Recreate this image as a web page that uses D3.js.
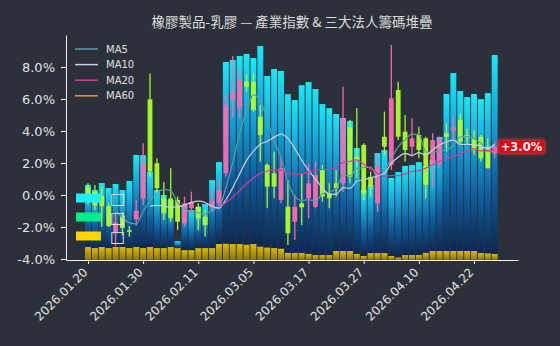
<!DOCTYPE html>
<html><head><meta charset="utf-8">
<script src="https://cdn.jsdelivr.net/npm/d3@7"></script>
<style>html,body{margin:0;padding:0;background:#2b303a;} svg{display:block;}</style>
</head><body><svg id="c" width="560" height="346"></svg>
<script>
const dates = ["2026.01.20","2026.01.21","2026.01.22","2026.01.23","2026.01.26","2026.01.27","2026.01.28","2026.01.29","2026.01.30",
"2026.02.02","2026.02.03","2026.02.04","2026.02.05","2026.02.06","2026.02.09","2026.02.10","2026.02.11",
"2026.02.23","2026.02.24","2026.02.25","2026.02.26","2026.03.02","2026.03.03","2026.03.04","2026.03.05",
"2026.03.06","2026.03.09","2026.03.10","2026.03.11","2026.03.12","2026.03.13","2026.03.16","2026.03.17",
"2026.03.18","2026.03.19","2026.03.20","2026.03.23","2026.03.24","2026.03.25","2026.03.26","2026.03.27",
"2026.03.30","2026.03.31","2026.04.01","2026.04.02","2026.04.07","2026.04.08","2026.04.09","2026.04.10",
"2026.04.13","2026.04.14","2026.04.15","2026.04.16","2026.04.17","2026.04.20","2026.04.21","2026.04.22",
"2026.04.23","2026.04.24","2026.04.27"];
const tickIdx = [0,8,16,24,32,40,48,56];
const yTicks = [-4,-2,0,2,4,6,8];

const open  = [0.47,0.21,-0.06,-0.69,-2.4,-1.31,-2.2,-1.52,-0.21,5.98,1.98,-0.21,-0.21,-0.31,-1.77,-0.83,-0.73,-1.36,-0.77,-0.52,
 1.36,5.98,5.42,7.08,7.08,4.89,1.88,1.36,-0.31,-0.73,-1.67,-0.52,-0.21,-0.73,1.56,0.1,0.73,0.73,4.23,2.39,
 3.13,1.14,-0.52,3.64,1.88,6.56,3.96,3.02,3.75,3.54,1.88,1.98,3.85,4.02,4.69,3.75,3.54,3.64,3.02,2.6];
const high  = [0.73,0.63,0.52,-0.5,-1.1,-1.06,-1.95,-0.3,3.23,7.6,2.29,0.83,1.67,-0.1,-0.1,0.21,-0.52,-0.94,0.31,0.94,
 6.25,8.69,7.92,7.5,7.6,5.63,1.98,2.71,2.39,0.94,0.0,1.36,1.98,2.08,1.88,0.73,1.56,6.77,4.69,5.42,
 3.23,1.46,2.6,5.21,9.38,7.08,5.0,4.79,4.27,3.64,3.86,3.64,4.48,5.0,5.1,4.17,4.06,3.75,3.54,3.33];
const low   = [-0.6,-0.94,-1.98,-2.0,-3.2,-2.5,-2.6,-1.9,-0.63,1.14,0.1,-1.56,-1.67,-2.19,-1.98,-1.14,-2.19,-2.6,-1.04,-0.73,
 1.14,4.89,4.79,6.46,5.21,2.08,-0.83,-0.21,-0.52,-3.13,-2.81,-1.88,-1.46,-0.83,-0.42,-0.83,-0.1,0.21,0.73,1.04,
 -0.31,-0.1,-1.04,2.5,1.56,3.44,2.08,2.39,2.29,-0.21,0.52,1.77,2.71,3.44,3.23,3.13,2.5,2.08,1.67,2.29];
const close = [-0.06,-0.63,-0.69,-1.94,-1.73,-2.06,-2.3,-0.98,1.98,1.46,0.42,-1.14,-1.44,-1.67,-0.52,-0.46,-1.46,-1.88,-0.36,0.31,
 5.63,6.39,7.19,6.77,5.31,3.75,0.52,0.52,1.67,-2.39,-0.73,-0.77,0.73,1.25,-0.1,-0.21,0.42,4.79,1.14,2.14,
 0.1,0.52,1.81,3.02,6.04,3.64,2.81,3.54,2.81,0.63,3.44,3.54,3.64,4.23,3.33,3.6,2.81,2.29,1.67,3.02];

// chip stacks (relative units)
const foreign = [27.6,25.8,28.4,26.7,28.0,25.3,29.8,40.9,41.3,33.3,25.8,23.6,20.9,3.1,20.0,17.8,18.2,19.6,30.2,36.4,
 80.7,81.8,83.6,84.7,82.7,89.1,76.2,79.6,78.9,70.5,67.9,74.5,76.4,73.8,67.1,65.3,60.9,59.1,57.8,47.1,
 29.3,30.2,44.4,45.8,34.7,37.9,39.6,40.0,41.3,38.5,40.4,50.7,69.8,79.1,71.1,68.4,69.8,68.3,71.2,88.4];
const trust = [0,0,0,0,0,0,0,0,0,0,0,0,0,0,0,0,0,0,0,0,0,0,0,0,0,0,0,0,0,0,0,0,0,0,0,0,0,0,0,0,0,0,0,0,0,0,0,0,0,0,0,0,0,0,0,0,0,0,0,0];
const dealer = [5.8,5.3,5.8,5.3,5.8,5.8,5.3,5.8,5.3,5.8,5.3,5.3,5.8,5.3,4.4,4.4,5.3,5.3,5.3,7.1,
 7.3,7.1,7.1,6.9,7.1,6.0,5.6,5.3,5.1,3.2,3.2,3.2,2.7,2.2,2.2,2.2,4.0,4.0,4.0,2.7,
 1.8,3.1,3.1,3.1,1.8,1.2,2.2,2.2,2.2,3.2,4.0,4.0,4.0,4.0,4.0,4.0,4.0,3.2,3.0,2.7];

const maNames = ["MA5","MA10","MA20","MA60"];
const maWin = [5,10,20,60];
const maColors = ["#5d9ea3","#c9d2dc","#d63a9c","#e0a020"];
const chipNames = ["□","□","□"];
const chipColors = ["#1ef0ff","#00ee8a","#ffd400"];
const title = "橡膠製品-乳膠 — 產業指數 & 三大法人籌碼堆疊";

const svg = d3.select("#c");
const L=66,R=518,T=35,B=260;
const x = d3.scaleLinear().domain([-3.19,62.38]).range([L,R]);
const y = d3.scaleLinear().domain([-4.0625,10]).range([B,T]);
const yb = d3.scaleLinear().domain([0,100]).range([B,T]);
const step = x(1)-x(0);

const defs = svg.append("defs");
const gB = defs.append("linearGradient").attr("id","gb").attr("x1",0).attr("y1",0).attr("x2",0).attr("y2",1);
[[0,"#1ae8f4"],[0.3,"#14a9dc"],[0.65,"#0e5c9e"],[1,"#0b2852"]].forEach(s=>gB.append("stop").attr("offset",s[0]).attr("stop-color",s[1]));
const gY = defs.append("linearGradient").attr("id","gy").attr("x1",0).attr("y1",0).attr("x2",0).attr("y2",1);
[[0,"#dcbc00"],[1,"#8a7400"]].forEach(s=>gY.append("stop").attr("offset",s[0]).attr("stop-color",s[1]));
const gG = defs.append("linearGradient").attr("id","gg").attr("x1",0).attr("y1",0).attr("x2",0).attr("y2",1);
[[0,"#00ee8a"],[1,"#006a40"]].forEach(s=>gG.append("stop").attr("offset",s[0]).attr("stop-color",s[1]));
const glow = defs.append("filter").attr("id","glow").attr("x","-30%").attr("y","-60%").attr("width","160%").attr("height","220%");
glow.append("feGaussianBlur").attr("stdDeviation",1.5);

// stacked bars
const stackData = dates.map((d,i)=>({i, dealer:dealer[i], trust:trust[i], foreign:foreign[i]}));
const series = d3.stack().keys(["dealer","trust","foreign"])(stackData);
const fills = {dealer:"url(#gy)", trust:"url(#gg)", foreign:"url(#gb)"};
const bw = step*0.86;
series.forEach(s=>{
  svg.append("g").selectAll("rect").data(s.filter(d=>d[1]-d[0]>0)).join("rect")
    .attr("x",d=>x(d.data.i)-bw/2).attr("width",bw)
    .attr("y",d=>yb(d[1])).attr("height",d=>yb(d[0])-yb(d[1]))
    .attr("fill",fills[s.key]);
});

// candles
const cg = svg.append("g").attr("opacity",0.95);
dates.forEach((d,i)=>{
  const up = close[i]>=open[i];
  const col = up ? "#ff69b4" : "#adff2f";
  cg.append("line").attr("x1",x(i)).attr("x2",x(i)).attr("y1",y(high[i])).attr("y2",y(low[i]))
    .attr("stroke",col).attr("stroke-width",1.3);
  const top = y(Math.max(open[i],close[i])), bot = y(Math.min(open[i],close[i]));
  cg.append("rect").attr("x",x(i)-2.4).attr("width",4.8).attr("y",top).attr("height",Math.max(1,bot-top)).attr("fill",col);
});

// moving averages
maWin.forEach((w,k)=>{
  const ma = close.map((c,i)=> i>=w-1 ? d3.mean(close.slice(i-w+1,i+1)) : null);
  const line = d3.line().defined(d=>d!=null).x((d,i)=>x(i)).y(d=>y(d)).curve(d3.curveMonotoneX);
  svg.append("path").datum(ma).attr("d",line).attr("fill","none").attr("stroke",maColors[k]).attr("stroke-width",1.2);
});

// axes
const ya = svg.append("g").attr("transform",`translate(${L},0)`)
  .call(d3.axisLeft(y).tickValues(yTicks).tickFormat(d=>d.toFixed(1)+"%").tickSize(5).tickSizeOuter(0).tickPadding(6));
const xa = svg.append("g").attr("transform",`translate(0,${B})`)
  .call(d3.axisBottom(x).tickValues(tickIdx).tickFormat(i=>dates[i]).tickSize(4).tickSizeOuter(0));
[ya,xa].forEach(a=>{
  a.selectAll("path,line").attr("stroke","#f0f0f0").attr("stroke-width",1);
  a.selectAll("text").attr("fill","#e2e2e2").attr("font-family","DejaVu Sans").attr("font-size",13);
});
xa.selectAll("text").attr("font-size",12).attr("text-anchor","end").attr("x",0).attr("y",0).attr("dy","0.35em")
  .attr("transform","translate(-3,10) rotate(-45)");

// title
svg.append("text").attr("x",(L+R)/2).attr("y",27).attr("text-anchor","middle")
  .attr("font-family","Noto Sans CJK TC").attr("font-size",13.5).attr("fill","#dcdcdc").text(title);

// MA legend
const lg = svg.append("g");
maNames.forEach((n,k)=>{
  const yy = 49 + k*15.6;
  lg.append("line").attr("x1",75).attr("x2",98).attr("y1",yy).attr("y2",yy).attr("stroke",maColors[k]).attr("stroke-width",1.5);
  lg.append("text").attr("x",106).attr("y",yy).attr("dy","0.35em").attr("font-family","DejaVu Sans").attr("font-size",10)
    .attr("fill","#e0e0e0").text(n);
});
// chip legend
chipNames.forEach((n,k)=>{
  const yy = 198 + k*19;
  svg.append("rect").attr("x",76).attr("y",yy-4.5).attr("width",25).attr("height",9).attr("fill",chipColors[k]);
  svg.append("text").attr("x",110).attr("y",yy).attr("dy","0.35em").attr("font-family","DejaVu Sans").attr("font-size",16)
    .attr("fill","#e0e0e0").text(n);
});

// last value label
const last = close[close.length-1];
const lbl = svg.append("g").attr("transform",`translate(521.5,${y(last)})`);
lbl.append("rect").attr("x",-23.5).attr("y",-7).attr("width",47).attr("height",14).attr("rx",2).attr("fill","#ff3030").attr("filter","url(#glow)");
lbl.append("rect").attr("x",-22.5).attr("y",-6).attr("width",45).attr("height",12).attr("rx",2).attr("fill","#e3000f");
lbl.append("text").attr("text-anchor","middle").attr("dy","0.36em").attr("font-family","DejaVu Sans").attr("font-weight","bold")
  .attr("font-size",11.5).attr("fill","#ffffff").text((last>=0?"+":"")+last.toFixed(1)+"%");
</script></body></html>
